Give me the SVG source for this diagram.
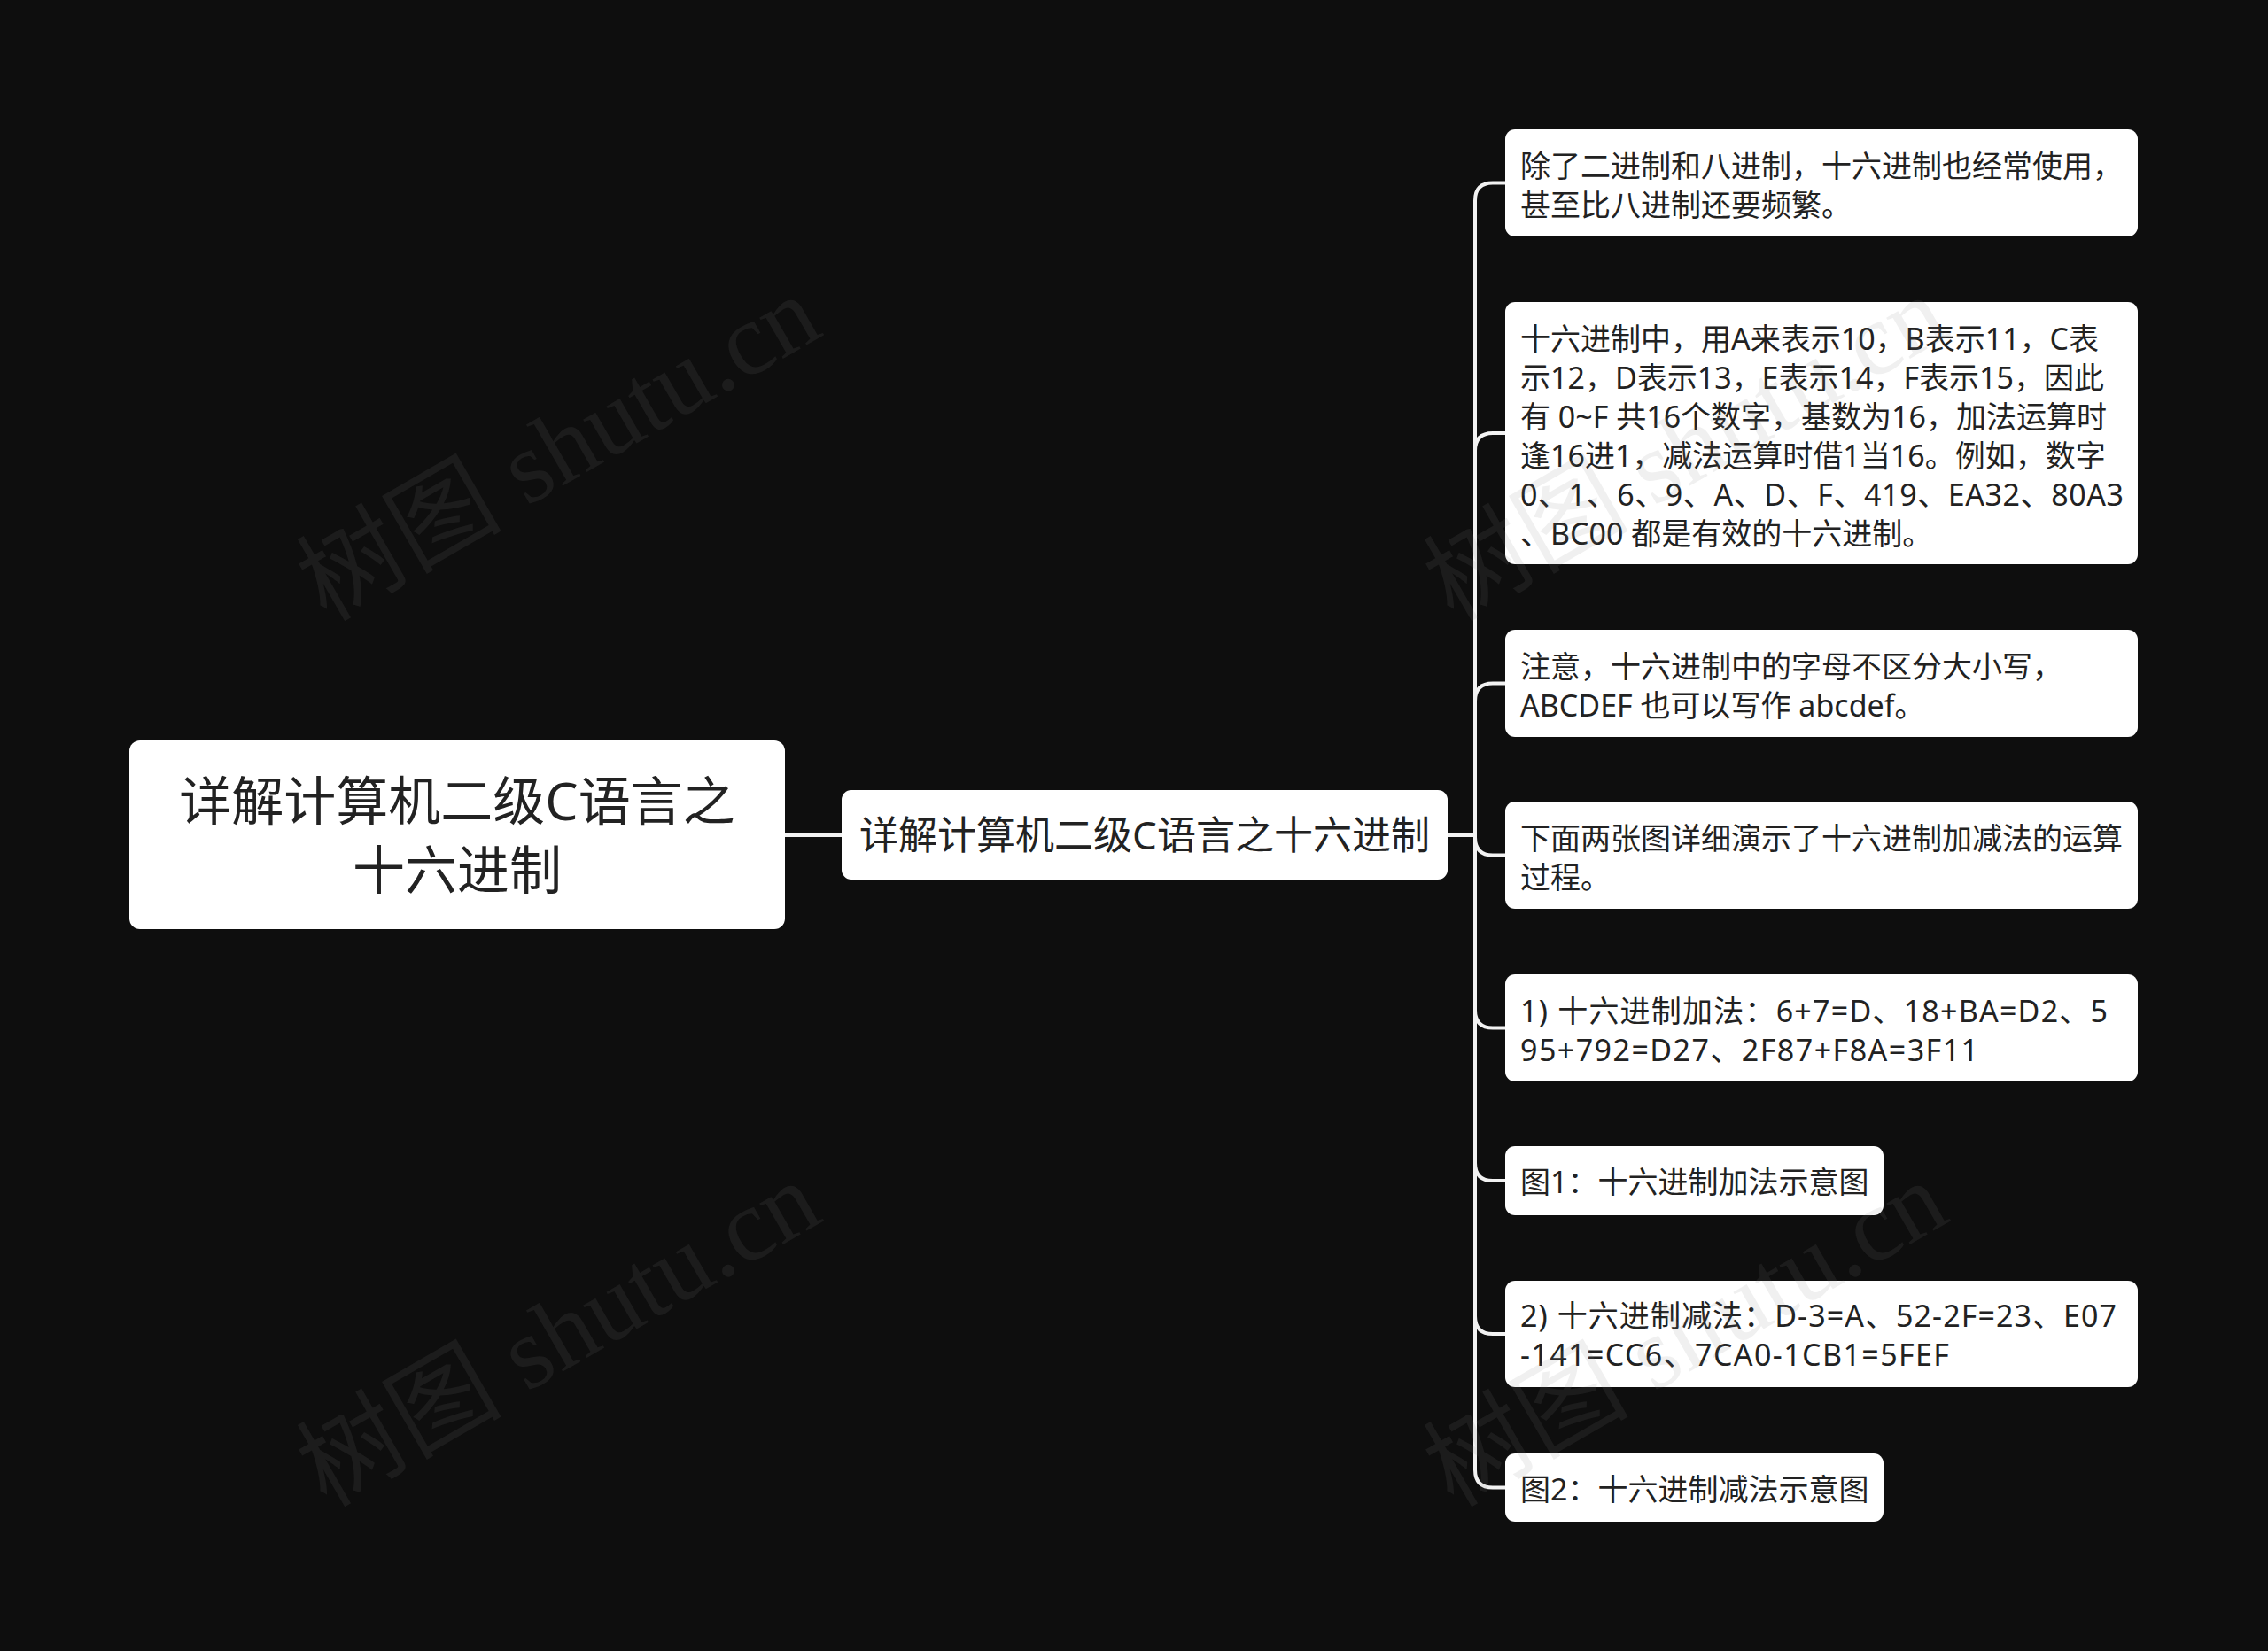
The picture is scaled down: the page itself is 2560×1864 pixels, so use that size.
<svg xmlns="http://www.w3.org/2000/svg" width="2560" height="1864" viewBox="0 0 2560 1864">
<style>
.bg{fill:#0e0e0e}
.box{fill:#ffffff}
.t{font-family:"Noto Sans","Noto Sans CJK SC",sans-serif;fill:#222222}
.leaf{font-size:34px}
.edge{fill:none;stroke:#f2f2f2;stroke-width:4;stroke-linecap:round}
.wm{font-family:"Liberation Serif","Noto Sans CJK SC",serif;font-size:116px;fill:#808080;fill-opacity:0.12}
</style>
<rect class="bg" x="0" y="0" width="2560" height="1864"/>
<g id="connectors">
<path class="edge" d="M886 943 H950"/>
<path class="edge" d="M1634 943 H1665 V226.5 Q1665 206.5 1685 206.5 H1699"/>
<path class="edge" d="M1634 943 H1665 V509 Q1665 489 1685 489 H1699"/>
<path class="edge" d="M1634 943 H1665 V791.5 Q1665 771.5 1685 771.5 H1699"/>
<path class="edge" d="M1634 943 H1665 V945.5 Q1665 965.5 1685 965.5 H1699"/>
<path class="edge" d="M1634 943 H1665 V1140.5 Q1665 1160.5 1685 1160.5 H1699"/>
<path class="edge" d="M1634 943 H1665 V1313 Q1665 1333 1685 1333 H1699"/>
<path class="edge" d="M1634 943 H1665 V1486 Q1665 1506 1685 1506 H1699"/>
<path class="edge" d="M1634 943 H1665 V1659.5 Q1665 1679.5 1685 1679.5 H1699"/>
</g>
<g id="root">
<rect class="box" x="146" y="836" width="740" height="213" rx="12"/>
<text class="t" font-size="59" text-anchor="middle"><tspan x="516" y="926">详解计算机二级C语言之</tspan><tspan x="516" y="1004">十六进制</tspan></text>
</g>
<g id="main">
<rect class="box" x="950" y="892" width="684" height="101" rx="11"/>
<text class="t" font-size="44" text-anchor="middle" x="1292" y="959">详解计算机二级C语言之十六进制</text>
</g>
<g id="n1">
<rect class="box" x="1699" y="146" width="714" height="121" rx="11"/>
<text class="t leaf"><tspan x="1716" y="200">除了二进制和八进制，十六进制也经常使用，</tspan><tspan x="1716" y="244">甚至比八进制还要频繁。</tspan></text>
</g>
<g id="n2">
<rect class="box" x="1699" y="341" width="714" height="296" rx="11"/>
<text class="t leaf" x="1716" y="395">十六进制中，用A来表示10，B表示11，C表</text>
<text class="t leaf" x="1716" y="439">示12，D表示13，E表示14，F表示15，因此</text>
<text class="t leaf" x="1716" y="483">有 0~F 共16个数字，基数为16，加法运算时</text>
<text class="t leaf" x="1716" y="527">逢16进1，减法运算时借1当16。例如，数字</text>
<text class="t leaf" x="1716" y="571" textLength="681">0、1、6、9、A、D、F、419、EA32、80A3</text>
<text class="t leaf" x="1716" y="615">、BC00 都是有效的十六进制。</text>
</g>
<g id="n3">
<rect class="box" x="1699" y="711" width="714" height="121" rx="11"/>
<text class="t leaf"><tspan x="1716" y="765">注意，十六进制中的字母不区分大小写，</tspan><tspan x="1716" y="809">ABCDEF 也可以写作 abcdef。</tspan></text>
</g>
<g id="n4">
<rect class="box" x="1699" y="905" width="714" height="121" rx="11"/>
<text class="t leaf"><tspan x="1716" y="959">下面两张图详细演示了十六进制加减法的运算</tspan><tspan x="1716" y="1003">过程。</tspan></text>
</g>
<g id="n5">
<rect class="box" x="1699" y="1100" width="714" height="121" rx="11"/>
<text class="t leaf" x="1716" y="1154" textLength="663">1) 十六进制加法：6+7=D、18+BA=D2、5</text>
<text class="t leaf" x="1716" y="1198" textLength="517">95+792=D27、2F87+F8A=3F11</text>
</g>
<g id="n6">
<rect class="box" x="1699" y="1294" width="427" height="78" rx="11"/>
<text class="t leaf" x="1716" y="1347">图1：十六进制加法示意图</text>
</g>
<g id="n7">
<rect class="box" x="1699" y="1446" width="714" height="120" rx="11"/>
<text class="t leaf" x="1716" y="1498" textLength="673">2) 十六进制减法：D-3=A、52-2F=23、E07</text>
<text class="t leaf" x="1716" y="1542" textLength="484">-141=CC6、7CA0-1CB1=5FEF</text>
</g>
<g id="n8">
<rect class="box" x="1699" y="1641" width="427" height="77" rx="11"/>
<text class="t leaf" x="1716" y="1694">图2：十六进制减法示意图</text>
</g>
<g id="watermarks">
<text class="wm" text-anchor="middle" transform="translate(650 540) rotate(-30)">树图 shutu.cn</text>
<text class="wm" text-anchor="middle" transform="translate(1922 540) rotate(-30)">树图 shutu.cn</text>
<text class="wm" text-anchor="middle" transform="translate(650 1540) rotate(-30)">树图 shutu.cn</text>
<text class="wm" text-anchor="middle" transform="translate(1922 1540) rotate(-30)">树图 shutu.cn</text>
</g>
</svg>
